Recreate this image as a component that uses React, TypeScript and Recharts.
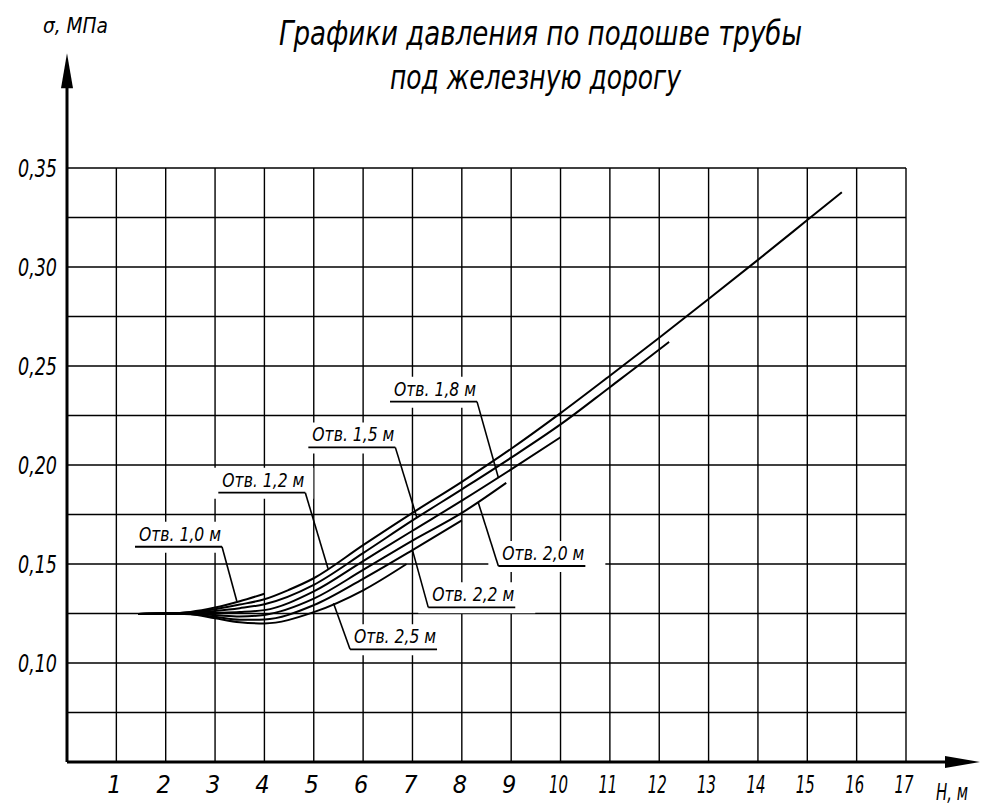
import React from 'react';
import {
  LineChart,
  Line,
  XAxis,
  YAxis,
  CartesianGrid,
  ReferenceLine,
  ReferenceDot,
  ReferenceArea,
} from 'recharts';

const FONT = "'Liberation Sans Narrow', 'DejaVu Sans Condensed', 'Liberation Sans', sans-serif";

const TITLE_LINES = ['Графики давления по подошве трубы', 'под железную дорогу'];
const Y_UNIT = 'σ, МПа';
const X_UNIT = 'Н, м';

const H_TICKS = [1, 2, 3, 4, 5, 6, 7, 8, 9, 10, 11, 12, 13, 14, 15, 16, 17];
const P_GRID = [0.075, 0.1, 0.125, 0.15, 0.175, 0.2, 0.225, 0.25, 0.275, 0.3, 0.325, 0.35];
const P_LABELS = [0.1, 0.15, 0.2, 0.25, 0.3, 0.35];

// Отв. 1,0 м
const H_10 = [1.45, 2.0, 2.5, 3.0, 3.5, 4.0];
const P_10 = [0.1248, 0.125, 0.1258, 0.128, 0.1312, 0.135];
// Отв. 1,2 м
const H_12 = [1.45, 2.0, 2.5, 3.0, 3.5, 4.0, 4.5, 5.0, 6.0, 7.0, 8.0, 9.0, 10.0, 11.0, 12.0, 13.0, 14.0, 15.0, 15.7];
const P_12 = [0.1248, 0.125, 0.1256, 0.1272, 0.1295, 0.1322, 0.137, 0.1428, 0.1595, 0.1758, 0.1915, 0.2082, 0.2262, 0.2451, 0.2643, 0.2838, 0.3036, 0.3237, 0.3378];
// Отв. 1,5 м
const H_15 = [1.45, 2.0, 2.5, 3.0, 3.5, 4.0, 5.0, 6.0, 7.0, 8.0, 9.0, 10.0, 11.0, 12.0, 12.2];
const P_15 = [0.1248, 0.125, 0.1253, 0.1263, 0.1277, 0.1297, 0.1395, 0.1555, 0.172, 0.1877, 0.2037, 0.2205, 0.2393, 0.2583, 0.2622];
// Отв. 1,8 м
const H_18 = [1.45, 2.0, 2.5, 3.0, 3.5, 4.0, 5.0, 6.0, 7.0, 8.0, 9.0, 10.0];
const P_18 = [0.1248, 0.125, 0.125, 0.1253, 0.1257, 0.1267, 0.1362, 0.1515, 0.1668, 0.182, 0.1978, 0.214];
// Отв. 2,0 м
const H_20 = [1.45, 2.0, 2.5, 3.0, 3.5, 4.0, 5.0, 6.0, 7.0, 8.0, 8.9];
const P_20 = [0.1248, 0.125, 0.1248, 0.1242, 0.1235, 0.1243, 0.1325, 0.147, 0.1618, 0.1758, 0.191];
// Отв. 2,2 м
const H_22 = [1.45, 2.0, 2.5, 3.0, 3.5, 4.0, 5.0, 6.0, 7.0, 8.0];
const P_22 = [0.1248, 0.125, 0.1247, 0.1233, 0.1218, 0.122, 0.1292, 0.1425, 0.157, 0.172];
// Отв. 2,5 м
const H_25 = [1.45, 2.0, 2.5, 3.0, 3.5, 4.0, 5.0, 6.0, 6.88];
const P_25 = [0.1248, 0.125, 0.1246, 0.1226, 0.1206, 0.12, 0.1257, 0.1367, 0.15];

const SERIES_H = [H_10, H_12, H_15, H_18, H_20, H_22, H_25];
const SERIES_P = [P_10, P_12, P_15, P_18, P_20, P_22, P_25];

// annotations
const NOTE_TEXT = ['Отв. 1,0 м', 'Отв. 1,2 м', 'Отв. 1,5 м', 'Отв. 1,8 м', 'Отв. 2,0 м', 'Отв. 2,2 м', 'Отв. 2,5 м'];
const NOTE_AT_H = [1.378, 3.066, 4.89, 6.545, 8.74, 7.32, 5.735];
const NOTE_AT_P = [0.1587, 0.186, 0.2089, 0.232, 0.149, 0.1281, 0.1069];
const NOTE_TO_H = [3.44, 5.29, 7.09, 8.74, 8.33, 7.0, 5.4];
const NOTE_TO_P = [0.1313, 0.1476, 0.1734, 0.1937, 0.1813, 0.157, 0.1302];
const NOTE_FROM_RIGHT = [true, true, true, true, false, false, false];

const X_PX = 49.35; // px per unit H (layout)
const Y_PX = 1980; // px per unit P (layout)
const UNDERLINE = 87 / X_PX;

const W = 981;
const H = 808;

const fmtP = (v: number) => v.toFixed(2).replace('.', ',');

const YTick = (props: any) => {
  const { x, y, payload } = props;
  const v = payload.value;
  if (!P_LABELS.some((l) => Math.abs(l - v) < 1e-9)) return <g />;
  return (
    <text
      x={x}
      y={y + 9}
      textAnchor="end"
      fontFamily={FONT}
      fontStyle="italic"
      fontSize={25}
      fill="#000"
      textLength={39}
      lengthAdjust="spacingAndGlyphs"
    >
      {fmtP(v)}
    </text>
  );
};

const XTick = (props: any) => {
  const { x, y, payload } = props;
  const v = payload.value;
  const extra = v >= 10 ? { textLength: 19, lengthAdjust: 'spacingAndGlyphs' } : {};
  return (
    <text
      x={x - 2}
      y={y + 31}
      textAnchor="middle"
      fontFamily={FONT}
      fontStyle="italic"
      fontSize={25}
      fill="#000"
      {...extra}
    >
      {String(v)}
    </text>
  );
};

const ArrowShape = (props: any) => {
  const { x1, y1, x2, y2 } = props;
  const dx = x2 - x1;
  const dy = y2 - y1;
  const len = Math.sqrt(dx * dx + dy * dy) || 1;
  const ux = dx / len;
  const uy = dy / len;
  const px = -uy;
  const py = ux;
  const headL = 35;
  const headW = 6;
  const bx = x2 - ux * headL;
  const by = y2 - uy * headL;
  return (
    <g>
      <line x1={x1} y1={y1} x2={bx + ux * 5} y2={by + uy * 5} stroke="#000" strokeWidth={3} />
      <polygon
        points={`${x2},${y2} ${bx + px * headW},${by + py * headW} ${bx - px * headW},${by - py * headW}`}
        fill="#000"
      />
    </g>
  );
};

const makeNoteText = (text: string) => (props: any) => {
  const { cx, cy } = props;
  return (
    <text
      x={cx + 4}
      y={cy - 6}
      fontFamily={FONT}
      fontStyle="italic"
      fontSize={20}
      fill="#000"
      textLength={82}
      lengthAdjust="spacingAndGlyphs"
    >
      {text}
    </text>
  );
};

export default function App() {
  return (
    <div style={{ position: 'absolute', left: 0, top: 0, width: W, height: H, background: '#fff' }}>
      <LineChart width={W} height={H} margin={{ top: 168, right: 75, bottom: 16, left: 7 }}>
        <CartesianGrid
          stroke="#000"
          strokeWidth={1.4}
          horizontalValues={P_GRID}
          verticalValues={H_TICKS}
        />
        <XAxis
          type="number"
          dataKey="h"
          domain={[0, 17]}
          ticks={H_TICKS}
          interval={0}
          allowDataOverflow
          axisLine={false}
          tickLine={false}
          tickSize={0}
          tickMargin={0}
          height={30}
          tick={<XTick />}
        />
        <YAxis
          type="number"
          dataKey="p"
          domain={[0.05, 0.35]}
          ticks={P_GRID}
          interval={0}
          allowDataOverflow
          axisLine={false}
          tickLine={false}
          tickSize={0}
          tickMargin={10}
          width={60}
          tick={<YTick />}
        />
        {NOTE_TEXT.map((t, i) => {
          const left = NOTE_AT_H[i];
          const right = left + UNDERLINE;
          return (
            <ReferenceArea
              key={'bg' + i}
              x1={left - 10 / X_PX}
              x2={right + (NOTE_FROM_RIGHT[i] ? 8 : 20) / X_PX}
              y1={NOTE_AT_P[i] - 6 / Y_PX}
              y2={NOTE_AT_P[i] + 25 / Y_PX}
              fill="#fff"
              fillOpacity={1}
              stroke="none"
              ifOverflow="visible"
            />
          );
        })}
        {SERIES_H.map((hs, i) => (
          <Line
            key={'s' + i}
            data={hs.map((h, j) => ({ h, p: SERIES_P[i][j] }))}
            dataKey="p"
            type="monotone"
            stroke="#000"
            strokeWidth={2}
            dot={false}
            activeDot={false}
            isAnimationActive={false}
          />
        ))}
        {NOTE_TEXT.map((t, i) => {
          const left = NOTE_AT_H[i];
          const right = left + UNDERLINE;
          return (
            <ReferenceLine
              key={'ul' + i}
              segment={[
                { x: left, y: NOTE_AT_P[i] },
                { x: right, y: NOTE_AT_P[i] },
              ]}
              stroke="#000"
              strokeWidth={1.8}
              ifOverflow="visible"
            />
          );
        })}
        {NOTE_TEXT.map((t, i) => {
          const left = NOTE_AT_H[i];
          const right = left + UNDERLINE;
          const from = NOTE_FROM_RIGHT[i] ? right : left;
          return (
            <ReferenceLine
              key={'ld' + i}
              segment={[
                { x: from, y: NOTE_AT_P[i] },
                { x: NOTE_TO_H[i], y: NOTE_TO_P[i] },
              ]}
              stroke="#000"
              strokeWidth={1.6}
              ifOverflow="visible"
            />
          );
        })}
        <ReferenceLine
          segment={[
            { x: 0, y: 0.05 },
            { x: 18.5, y: 0.05 },
          ]}
          ifOverflow="visible"
          shape={<ArrowShape />}
        />
        <ReferenceLine
          segment={[
            { x: 0, y: 0.05 },
            { x: 0, y: 0.408 },
          ]}
          ifOverflow="visible"
          shape={<ArrowShape />}
        />
        {NOTE_TEXT.map((t, i) => (
          <ReferenceDot
            key={'tx' + i}
            x={NOTE_AT_H[i]}
            y={NOTE_AT_P[i]}
            r={0}
            ifOverflow="visible"
            shape={makeNoteText(t)}
          />
        ))}
      </LineChart>
      <svg
        width={W}
        height={H}
        style={{ position: 'absolute', left: 0, top: 0, pointerEvents: 'none' }}
      >
        <text
          x={279}
          y={45}
          fontFamily={FONT}
          fontStyle="italic"
          fontSize={34}
          fill="#000"
          textLength={523}
          lengthAdjust="spacingAndGlyphs"
        >
          {TITLE_LINES[0]}
        </text>
        <text
          x={390}
          y={89}
          fontFamily={FONT}
          fontStyle="italic"
          fontSize={34}
          fill="#000"
          textLength={291}
          lengthAdjust="spacingAndGlyphs"
        >
          {TITLE_LINES[1]}
        </text>
        <text
          x={43}
          y={33}
          fontFamily={FONT}
          fontStyle="italic"
          fontSize={21}
          fill="#000"
          textLength={65}
          lengthAdjust="spacingAndGlyphs"
        >
          {Y_UNIT}
        </text>
        <text
          x={936}
          y={800}
          fontFamily={FONT}
          fontStyle="italic"
          fontSize={23}
          fill="#000"
          textLength={32}
          lengthAdjust="spacingAndGlyphs"
        >
          {X_UNIT}
        </text>
      </svg>
    </div>
  );
}
